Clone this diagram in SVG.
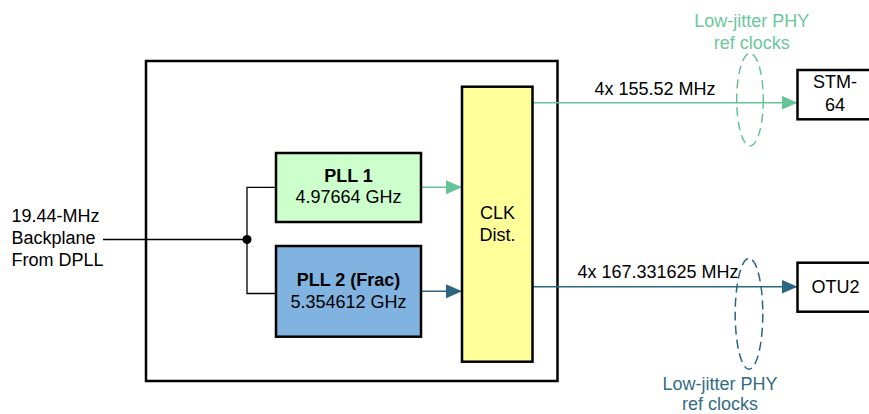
<svg xmlns="http://www.w3.org/2000/svg" width="869" height="414" viewBox="0 0 869 414">
<style>
text{font-family:"Liberation Sans",Arial,sans-serif;font-size:18px;fill:#000}
.b{font-weight:bold}
.box{stroke:#000;stroke-width:2.5}
.g{stroke:#66C496;fill:none;stroke-width:1.5}
.t{stroke:#2B6580;fill:none;stroke-width:1.5}
.blk{stroke:#000;fill:none;stroke-width:1.3}
.gt{fill:#6CC79C}
.tt{fill:#336C84}
</style>
<defs>
<marker id="ag" markerWidth="16" markerHeight="14" refX="16" refY="7" orient="auto" markerUnits="userSpaceOnUse"><path d="M0,0 L16,7 L0,14 Z" fill="#66C496"/></marker>
<marker id="at" markerWidth="16" markerHeight="14" refX="16" refY="7" orient="auto" markerUnits="userSpaceOnUse"><path d="M0,0 L16,7 L0,14 Z" fill="#2B6580"/></marker>
</defs>
<rect width="869" height="414" fill="#fff"/>
<g id="chip"><rect x="146" y="61" width="411.5" height="320" fill="none" class="box"/></g>
<g id="connectors">
<path d="M103,239.5 H247 M276,187.3 H247 V293.5 H276" class="blk"/>
<circle cx="247" cy="239.5" r="4.5" fill="#000"/>
<path d="M421,187.3 H462" class="g" marker-end="url(#ag)"/>
<path d="M421,291.3 H462" class="t" marker-end="url(#at)"/>
<path d="M533,102.7 H797.5" class="g" marker-end="url(#ag)"/>
<path d="M533,286.7 H797.5" class="t" marker-end="url(#at)"/>
<ellipse cx="750" cy="99.7" rx="13.3" ry="46.3" class="g" stroke-dasharray="9,5" stroke-width="1.2"/>
<ellipse cx="749" cy="313.8" rx="13.8" ry="55.5" class="t" stroke-dasharray="9,5" stroke-width="1.2"/>
</g>
<g id="input"><text x="11.5" y="221.7">19.44-MHz</text><text x="11.5" y="243.5">Backplane</text><text x="11.5" y="266">From DPLL</text></g>
<g id="pll1"><rect x="276" y="153" width="145" height="69" fill="#CCFFCC" class="box"/><text x="348.5" y="181.7" text-anchor="middle" class="b">PLL 1</text><text x="348.5" y="203.3" text-anchor="middle">4.97664 GHz</text></g>
<g id="pll2"><rect x="276" y="246" width="145" height="90.7" fill="#80B3E0" class="box"/><text x="348.5" y="286" text-anchor="middle" class="b">PLL 2 (Frac)</text><text x="348.5" y="307.7" text-anchor="middle">5.354612 GHz</text></g>
<g id="clkdist"><rect x="462" y="86.7" width="70.5" height="275" fill="#FFFF99" class="box"/><text x="497.5" y="218.5" text-anchor="middle">CLK</text><text x="497.5" y="241" text-anchor="middle">Dist.</text></g>
<g id="stm64"><rect x="797.5" y="70" width="90" height="49.3" fill="#fff" class="box"/><text x="835" y="88.3" text-anchor="middle">STM-</text><text x="835" y="110.5" text-anchor="middle">64</text></g>
<g id="otu2"><rect x="797.5" y="262.7" width="90" height="49" fill="#fff" class="box"/><text x="811.5" y="293.3">OTU2</text></g>
<g id="labels">
<text x="655" y="95.2" text-anchor="middle">4x 155.52 MHz</text>
<text x="658" y="278.3" text-anchor="middle">4x 167.331625 MHz</text>
<text x="751.7" y="27.3" text-anchor="middle" class="gt">Low-jitter PHY</text>
<text x="751.7" y="49.3" text-anchor="middle" class="gt">ref clocks</text>
<text x="720" y="389.5" text-anchor="middle" class="tt">Low-jitter PHY</text>
<text x="720" y="410" text-anchor="middle" class="tt">ref clocks</text>
</g>
</svg>
